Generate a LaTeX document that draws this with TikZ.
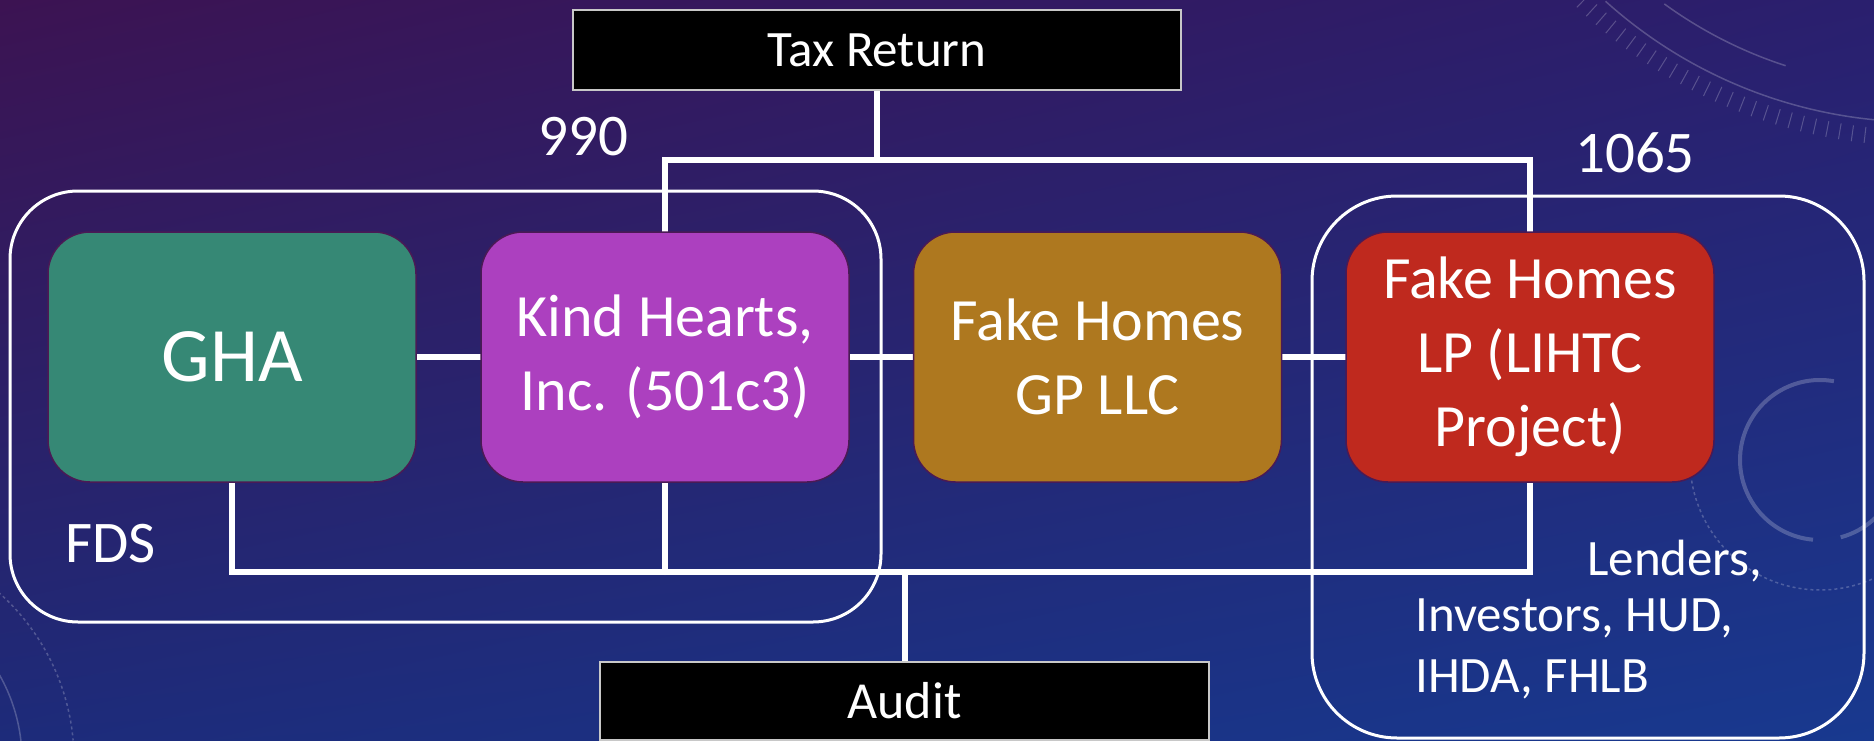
\documentclass[tikz,border=0pt]{standalone}
\usepackage{fontspec}
\setmainfont{Carlito}
\usetikzlibrary{backgrounds,shadings}
\definecolor{ghateal}{HTML}{368875}
\definecolor{khpurple}{HTML}{AC40BF}
\definecolor{gpgold}{HTML}{AE781F}
\definecolor{lpred}{HTML}{BF291E}
\definecolor{boxedge}{HTML}{4A1A55}
\definecolor{boxgray}{HTML}{C8C8C8}
\definecolor{bgUL}{HTML}{3C1352}
\definecolor{bgUR}{HTML}{2A1F6E}
\definecolor{bgLL}{HTML}{1D2B7A}
\definecolor{bgLR}{HTML}{18398F}
\begin{document}
\begin{tikzpicture}[x=1pt,y=-1pt,
  ent/.style={draw=boxedge, line width=1.5pt, rounded corners=42pt, minimum width=368pt, minimum height=250pt, inner sep=0pt, align=center, text=white, font=\fontsize{60}{74}\selectfont},
  blackbox/.style={draw=boxgray, line width=1.5pt, fill=black, text=white, inner sep=0pt, font=\fontsize{51}{60}\selectfont},
  wire/.style={draw=white, line width=6pt, line cap=round, line join=miter},
  grpbox/.style={draw=white, line width=3pt, inner sep=0pt},
  lbl/.style={text=white, inner sep=0pt, anchor=base west},
  deco/.style={draw=white, opacity=0.22}
]
\useasboundingbox (0,0) rectangle (1874,741);

% entity boxes
\node[ent, fill=ghateal, font=\fontsize{77}{90}\selectfont] (gha) at (232,357) {GHA};
\node[ent, fill=khpurple] (kind) at (665,357) {Kind Hearts,\\Inc. (501c3)};
\node[ent, fill=gpgold] (gp) at (1097.5,357) {Fake Homes\\GP LLC};
\node[ent, fill=lpred] (lp) at (1530,357) {Fake Homes\\LP (LIHTC\\Project)};

% black boxes
\node[blackbox, minimum width=608pt, minimum height=80pt] (tax) at (877,50) {Tax Return};
\node[blackbox, minimum width=609pt, minimum height=78pt, font=\fontsize{52}{60}\selectfont] (audit) at (904.5,701) {Audit};

% labels
\node[lbl, font=\fontsize{59}{70}\selectfont] (n990) at (538,156) {990};
\node[lbl, font=\fontsize{59}{70}\selectfont] (n1065) at (1575,172) {1065};
\node[lbl, font=\fontsize{59}{70}\selectfont] (fds) at (65,562) {FDS};
\node[lbl, font=\fontsize{51}{60}\selectfont] (len1) at (1587,575) {Lenders,};
\node[lbl, font=\fontsize{51}{60}\selectfont] (len2) at (1415,631) {Investors, HUD,};
\node[lbl, font=\fontsize{51}{60}\selectfont] (len3) at (1415,692) {IHDA, FHLB};

\begin{scope}[on background layer]
  \shade[upper left=bgUL, upper right=bgUR, lower left=bgLL, lower right=bgLR] (0,0) rectangle (1874,741);
  % faint decorations
  \draw[deco, line width=1.5pt] ([shift={(132:470)}]1920,-348) arc[start angle=132, end angle=85, radius=470];
  \draw[deco, line width=1.5pt] ([shift={(126:435)}]1920,-348) arc[start angle=126, end angle=108, radius=435];
  \foreach \a in {86,87.5,...,134} \draw[deco, line width=1pt] ([shift={(\a:478)}]1920,-348) -- ([shift={(\a:494)}]1920,-348);
  \draw[deco, line width=4pt] ([shift={(280:80)}]1820,460) arc[start angle=280, end angle=95, radius=80];
  \draw[deco, line width=4pt] ([shift={(75:80)}]1820,460) arc[start angle=75, end angle=20, radius=80];
  \draw[deco, line width=1.5pt, dashed] ([shift={(200:130)}]1820,460) arc[start angle=200, end angle=60, radius=130];
  \draw[deco, line width=1.5pt, dashed] ([shift={(-70:224)}]-150,760) arc[start angle=-70, end angle=-5, radius=224];
  \draw[deco, line width=1.5pt] ([shift={(-30:172)}]-150,760) arc[start angle=-30, end angle=-5, radius=172];
  % groups
  \node[grpbox, rounded corners=68pt, minimum width=871pt, minimum height=431pt] (grpL) at (445.5,406.5) {};
  \node[grpbox, rounded corners=85pt, minimum width=552pt, minimum height=542pt] (grpR) at (1588,467) {};
  % connectors
  \coordinate (topbar) at (0,160);
  \coordinate (botbar) at (0,572);
  \draw[wire] (tax.south) -- (tax.south |- topbar);
  \draw[wire] (kind.north) -- (kind.north |- topbar) -- (lp.north |- topbar) -- (lp.north);
  \draw[wire] (gha.south) -- (gha.south |- botbar) -- (lp.south |- botbar) -- (lp.south);
  \draw[wire] (kind.south) -- (kind.south |- botbar);
  \draw[wire] (audit.north) -- (audit.north |- botbar);
  \draw[wire] (gha.east) -- (kind.west);
  \draw[wire] (kind.east) -- (gp.west);
  \draw[wire] (gp.east) -- (lp.west);
\end{scope}
\end{tikzpicture}
\end{document}
